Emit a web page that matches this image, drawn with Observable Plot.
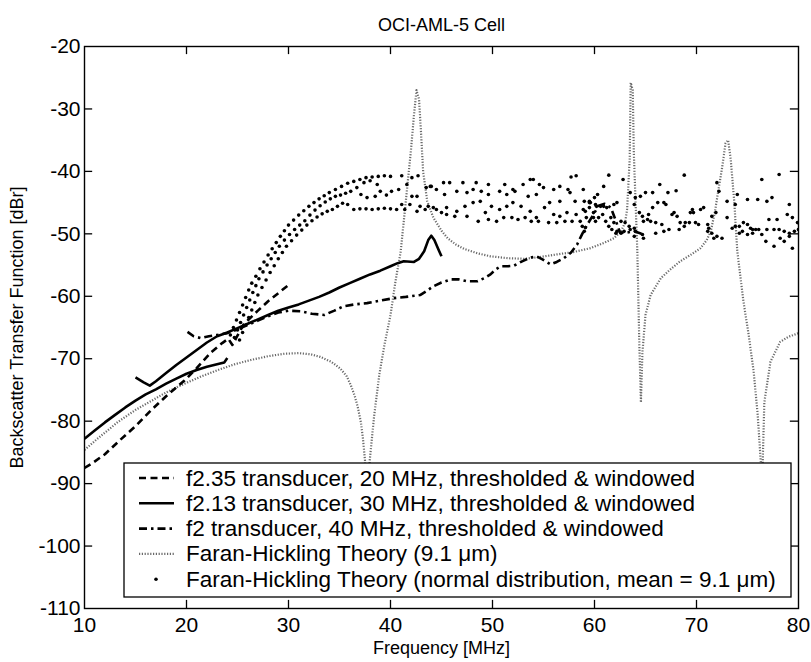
<!DOCTYPE html>
<html><head><meta charset="utf-8">
<script src="https://cdn.jsdelivr.net/npm/d3@7"></script>
<script src="https://cdn.jsdelivr.net/npm/@observablehq/plot@0.6"></script>
<style>body{margin:0;background:#fff} svg{display:block}</style>
</head><body><div id="chart"></div><script>
const titleText = "OCI-AML-5 Cell";
const xLabel = "Frequency [MHz]";
const yLabel = "Backscatter Transfer Function [dBr]";
const xTicks = [10, 20, 30, 40, 50, 60, 70, 80];
const yTicks = [-20, -30, -40, -50, -60, -70, -80, -90, -100, -110];
const legendLabels = [
  "f2.35 transducer, 20 MHz, thresholded & windowed",
  "f2.13 transducer, 30 MHz, thresholded & windowed",
  "f2 transducer, 40 MHz, thresholded & windowed",
  "Faran-Hickling Theory (9.1 \u03bcm)",
  "Faran-Hickling Theory (normal distribution, mean = 9.1 \u03bcm)"
];

// f2.35 transducer, 20 MHz (dashed)
const dashed20 = [[10,-87.5],[10.7,-86.8],[12,-85.3],[13.5,-83],[15,-80.8],[16.5,-78.3],[18,-76],[19.8,-73.5],[21,-71.5],[22.4,-69],[23.5,-67.5],[24.1,-66.8],[24.5,-67.8],[24.9,-66.6],[25.6,-64.5],[27,-62.3],[28,-60.8],[29,-59.5],[30,-58.2]];
// f2.13 transducer, 30 MHz (solid, two pieces)
const solid30a = [[10,-82.8],[11,-81.5],[12,-80.2],[13,-79],[14,-77.8],[15,-76.7],[16,-75.7],[17,-74.9],[18,-74],[19,-73.2],[20,-72.4],[21,-71.8],[22,-71.3],[23,-70.9],[23.7,-70.6],[24,-69.9]];
const solid30b = [[15,-73],[15.8,-73.8],[16.4,-74.3],[17,-73.6],[18,-72.3],[19,-71],[20,-69.8],[21,-68.6],[22,-67.4],[23,-66.4],[24,-65.8],[25,-65.1],[26,-64.4],[27,-63.7],[28,-63],[29,-62.3],[30,-61.8],[31,-61.3],[32,-60.7],[33,-60.1],[34,-59.4],[35,-58.6],[36,-57.9],[37,-57.2],[38,-56.5],[39,-55.9],[40,-55.2],[40.7,-54.7],[41.3,-54.4],[42.3,-54.5],[42.8,-54],[43.3,-52.8],[43.7,-51],[44,-50.3],[44.3,-51],[44.7,-52.5],[45,-53.6]];
// f2 transducer, 40 MHz (dash-dot)
const dashDot40 = [[20.1,-65.7],[20.7,-66.4],[21.4,-66.7],[22.2,-66.4],[23,-66.2],[24,-65.9],[25,-65.3],[26,-64.6],[27,-63.9],[28,-63.2],[29,-62.6],[30,-62.3],[31.2,-62.4],[32.3,-62.8],[33.5,-63],[34.5,-62.3],[35.4,-61.6],[36.5,-61.3],[37.7,-61.1],[39,-60.7],[40.3,-60.3],[41.5,-60.1],[42.9,-59.8],[43.5,-59.2],[44.2,-58.4],[45,-57.8],[45.9,-57.3],[46.7,-57.3],[47.5,-57.6],[48.5,-57.6],[49.2,-57.1],[49.8,-56.5],[50.3,-55.7],[50.8,-55.2],[51.5,-55.2],[52.1,-55.1],[52.9,-54.4],[53.7,-53.8],[54.3,-53.6],[54.9,-54.1],[55.7,-54.9],[56.3,-54.5],[57,-53.9],[57.7,-53],[58.3,-51.7],[58.8,-50],[59.3,-48.5],[59.9,-46.9],[60.4,-45.5],[61,-45.2],[61.6,-45.8],[62,-47.5],[62.5,-49.8],[63.2,-49.8],[63.9,-49.6],[64.8,-50.1]];
// Faran-Hickling theory, 9.1 um (dotted grey)
const theory91 = [[10,-84.6],[11.5,-82.5],[13.3,-80.1],[15,-78.2],[16.5,-76.8],[18,-75.4],[19.8,-74],[21.5,-72.8],[23.1,-71.8],[24.7,-70.9],[26.3,-70.2],[28,-69.6],[29.6,-69.2],[31,-69.1],[32.2,-69.3],[33.1,-69.7],[34.2,-70.5],[35.1,-71.6],[35.7,-72.8],[36.1,-74.2],[36.5,-76],[36.8,-77.8],[37.1,-80.2],[37.3,-82.8],[37.5,-86.3],[37.65,-100],[37.8,-100],[37.95,-86.5],[38.4,-79.1],[38.9,-72.6],[39.4,-67.8],[40,-63],[40.5,-57.5],[41,-52.8],[41.5,-44.8],[42,-36.7],[42.3,-31],[42.55,-27],[42.8,-28.5],[43,-34],[43.2,-40],[43.6,-44.8],[44.2,-47.4],[45,-49.5],[45.6,-50.7],[46.4,-51.7],[47.2,-52.4],[48.5,-53.1],[49.8,-53.6],[51.5,-53.9],[53.1,-54],[54.7,-53.7],[56.3,-53.3],[58,-52.9],[59.6,-52.3],[61,-51.4],[61.9,-50.7],[62.6,-49.6],[63,-48.2],[63.2,-46],[63.45,-38],[63.55,-25.8],[63.75,-27],[63.85,-36.7],[64.05,-46],[64.2,-52.8],[64.4,-68],[64.55,-77],[64.7,-69],[65,-63],[65.5,-59.8],[66.5,-57.1],[67.5,-55.6],[68.4,-54.4],[69.4,-53.4],[70.4,-52.3],[71,-51],[71.4,-49.6],[71.8,-46.5],[72.1,-43.5],[72.5,-39.5],[72.85,-35.5],[73.1,-35],[73.35,-38],[73.7,-44.8],[74,-52.8],[74.6,-60.8],[75.1,-66],[75.6,-72],[76,-79],[76.3,-86.5],[76.4,-100],[76.5,-86],[76.65,-77],[77.25,-70.5],[78.2,-67.3],[79,-66.5],[80,-65.9]];
// Faran-Hickling theory, normal distribution (dots)
const normalRise = [[24.3,-66.2],[24.6,-65],[24.9,-63.8],[25.2,-62.6],[25.5,-61.4],[25.8,-60.2],[26.1,-59],[26.4,-57.9],[26.8,-56.8],[27.2,-55.6],[27.6,-54.5],[28,-53.4],[28.4,-52.4],[28.8,-51.4],[29.2,-50.4],[29.6,-49.5],[30,-48.6],[30.5,-47.8],[31,-47],[31.5,-46.3],[32,-45.6],[32.5,-45],[33,-44.4],[33.5,-43.9],[34,-43.4],[34.6,-42.9],[35.2,-42.4],[35.8,-41.9],[36.4,-41.6],[37,-41.3],[37.6,-41],[38.2,-40.9],[38.8,-40.8],[39.4,-40.7],[40,-40.8],
  [24.7,-66.6],[25,-65.4],[25.3,-64.2],[25.6,-63],[25.9,-61.8],[26.2,-60.6],[26.5,-59.4],[26.8,-58.3],[27.1,-57.2],[27.5,-56.1],[27.9,-55],[28.3,-54],[28.7,-53],[29.1,-52],[29.6,-51],[30.1,-50.1],[30.6,-49.3],[31.1,-48.6],[31.6,-47.9],[32.1,-47],[32.6,-46.2],[33.1,-45.5],[33.6,-44.9],[34.1,-44.4],[34.6,-44],[35.1,-43.8],[35.6,-43.5],[36.1,-43.2],[36.7,-42.6],[37.4,-41.8],[38,-41.5],[38.7,-42.1],[39,-43.2],[38.5,-44],[37.7,-44.2],[37.1,-43.7],[39.6,-43.8],[40.1,-43.2],
  [25.2,-67],[25.5,-65.8],[25.8,-64.6],[26.1,-63.4],[26.4,-62.2],[26.7,-61],[27,-59.8],[27.4,-58.6],[27.8,-57.4],[28.2,-56.2],[28.6,-55.1],[29,-54],[29.4,-53],[29.8,-52],[30.3,-51.1],[30.8,-50.2],[31.3,-49.4],[31.8,-48.6],[32.3,-47.9],[32.8,-47.3],[33.3,-46.8],[33.8,-46.4],[34.3,-46.1],[34.8,-45.6],[35.3,-45.1],[35.8,-45.3],[36.4,-46.1],[37,-46],[37.6,-46],[38.2,-46.1],[38.8,-46],[39.4,-45.9],[40,-46]];
const normalMid = [[41.1,-40.7],[42.1,-41],[42.7,-40.7],[43.9,-42.4],[45.2,-41.8],[45.8,-41.8],[47.1,-41.8],[48.4,-41.8],[49.6,-42.1],[51.2,-42.1],[52.2,-43.2],[53,-42.1],[53.7,-41.3],[54,-41.3],[54.6,-42.1],[56,-42.9],[56.6,-42.4],[57.4,-42.9],[57.7,-40.9],[58.2,-40.7],[58.9,-42.9],[59.5,-44.8],
  [40.8,-42.9],[41.6,-42.1],[42.1,-44],[42.6,-44],[43.5,-42.6],[44,-42.4],[44.5,-42.9],[45.3,-43.7],[46.5,-43.2],[47.5,-43.4],[48.1,-42.9],[48.9,-43.2],[49.6,-43.7],[50.7,-43.2],[51.4,-43.7],[52,-42.9],[53.5,-44],[54.3,-43.7],[55,-42.6],[55.6,-45],[56.6,-44.8],[57.6,-43.4],[58.1,-44.8],[59.5,-45],[60,-44.2],
  [41.1,-45.3],[41.9,-45.3],[42.9,-45.6],[43.7,-45.6],[44.5,-46.1],[45.5,-45.8],[46.5,-46.4],[47.3,-45.6],[48.1,-45],[48.8,-44.8],[49.3,-46.6],[49.9,-45.6],[50.7,-46.1],[51.4,-45.6],[52,-45],[52.8,-45.6],[53.7,-46.4],[54.3,-47.4],[55.1,-45.8],[56,-46.9],[56.6,-47.2],[57.3,-46.6],[58.2,-46.9],[58.9,-46.1],[59.5,-45.8],[60.2,-45.6],
  [40.6,-46.1],[41.4,-46.1],[42.6,-46.4],[43.4,-46.1],[44.2,-45.8],[45,-46.6],[45.5,-46.9],[46.3,-47.2],[47.5,-47.2],[48.6,-48],[49.6,-47.7],[50.4,-48],[51.1,-47.4],[51.9,-47.4],[52.5,-47.7],[53.2,-47.4],[53.8,-48],[54.5,-48],[55.5,-48.2],[56.3,-48.2],[57.1,-48],[57.8,-48],[58.6,-48],[59.2,-47.4],[59.9,-47.4]];
const normalHigh = [[61.4,-40.6],[62.8,-41.3],[60.9,-42.4],[60.3,-43.7],[59,-44.8],[59.6,-45],[60.1,-45.3],[60.6,-45.6],[60.9,-45.6],[61.2,-45.8],[61.9,-45.3],[62.2,-45],[59.1,-46.4],[59.9,-46.6],[60.4,-47.4],[60.1,-48],[58.8,-48.8],[59,-49.6],[59.1,-49],[60.8,-46.9],[61.1,-48],[61.6,-47.4],[61.9,-48.2],[61.4,-48.8],[61.7,-49.3],[62.2,-49.6],[62.6,-49.9],[62.9,-49.6],[62.1,-49.9],[62.6,-48],[63,-48.2],[63.4,-48.8],[63.5,-49.3],[63.9,-49.1],[64,-49.6],[63.5,-43.4],[63.9,-45.3],[64,-44.2],[64.5,-44],[65,-43.4],[65.7,-43.4],[64.4,-46.6],[64.7,-47.2],[65.3,-46.9],[64.8,-48],[65.2,-47.7],[65.5,-48],[66,-48.2],[63.9,-50.4],[64.7,-50.1],[64.8,-50.7],[65.7,-45.8],[66.2,-45],[66.4,-42.1],[66.8,-45],[67,-45.3],[66.6,-48.5],[67.3,-49.3],[66,-49.9],[66.8,-49.6],[67.2,-43.4],[68,-43.1],[67.6,-46.9],[67.8,-46.6],[68.1,-47.2],[68.4,-48.2],[68.9,-48.2],[69.3,-48.2],[69.9,-48.2],[70.2,-48.5],[68.3,-49.3],[68.8,-48.8],[68.8,-40.6],[69.6,-46.1],[69.7,-46.6],[69.4,-46.6],[70.4,-46.1],[70.7,-45.8],[71.1,-48.5],[71.2,-49.1],[71.5,-47.2],[71.9,-46.6],[71.1,-49.6],[71.5,-49.9],[71.7,-50.7],[72,-50.4],[72.5,-50.7],[72.2,-43.2],[72,-41.8],[73,-44.8],[73.8,-45.3],[73,-47.4],[73.5,-49.1],[73.8,-48.8],[74.2,-48.8],[74.6,-48.2],[75,-48.5],[75.3,-49.1],[75.5,-49.3],[75.8,-49.3],[74.2,-49.9],[74.5,-49.6],[75,-50.1],[75.5,-49.9],[76.1,-49.3],[74,-43.7],[75,-44.5],[76,-44.5],[76.4,-41.3],[76.9,-44.8],[77.4,-44.2],[77.1,-47.7],[77.9,-47.7],[76.4,-50.1],[76.8,-51.2],[77.6,-52],[78.2,-50.7],[78.6,-51.2],[79.1,-50.4],[76.9,-49.3],[77.6,-49.3],[78.1,-49.3],[78.6,-49.6],[79.1,-49.9],[79.6,-49.6],[80,-49.3],[78.1,-40.5],[78.9,-46.9],[79.1,-45.3],[79.4,-47.4],[79.4,-52.3],[79.9,-48.2]];

const FONT = "'Liberation Sans', Arial, Helvetica, sans-serif";
const toRows = (arr, key) => arr.map(([f, v]) => ({f, v, key}));
const solidRows = [...toRows(solid30a, "a"), ...toRows(solid30b, "b")];
const dotRows = [...toRows(normalRise, "r"), ...toRows(normalMid, "m"), ...toRows(normalHigh, "h")];
const innerX = xTicks.slice(1, -1);
const innerY = yTicks.slice(1, -1);
const lineOpts = {x: "f", y: "v", clip: true, strokeLinecap: "butt", strokeLinejoin: "round"};

const chart = Plot.plot({
  width: 811, height: 662,
  marginLeft: 84, marginRight: 13, marginTop: 46, marginBottom: 54,
  style: {fontFamily: FONT, fontSize: "20px", color: "black", background: "white"},
  x: {domain: [10, 80]},
  y: {domain: [-110, -20]},
  marks: [
    Plot.line(toRows(theory91, "t"), {...lineOpts, stroke: "#6a6a6a", strokeWidth: 2.2, strokeDasharray: "1.2,1.6"}),
    Plot.dot(dotRows, {x: "f", y: "v", r: 1.8, fill: "black", stroke: "none", clip: true}),
    Plot.line(toRows(dashed20, "d"), {...lineOpts, stroke: "black", strokeWidth: 2.6, strokeDasharray: "7,4.5"}),
    Plot.line(solidRows, {...lineOpts, z: "key", stroke: "black", strokeWidth: 2.6}),
    Plot.line(toRows(dashDot40, "dd"), {...lineOpts, stroke: "black", strokeWidth: 2.6, strokeDasharray: "8,4,2.5,4"}),
    Plot.ruleX(innerX, {x: d => d, y1: -110, y2: -108.7, stroke: "black", strokeWidth: 1.3}),
    Plot.ruleX(innerX, {x: d => d, y1: -20, y2: -21.3, stroke: "black", strokeWidth: 1.3}),
    Plot.ruleY(innerY, {y: d => d, x1: 10, x2: 10.8, stroke: "black", strokeWidth: 1.3}),
    Plot.ruleY(innerY, {y: d => d, x1: 80, x2: 79.2, stroke: "black", strokeWidth: 1.3}),
    Plot.frame({stroke: "black", strokeWidth: 1.4}),
    Plot.axisX({ticks: xTicks, tickSize: 0, tickPadding: 9, fontSize: 21, tickFormat: d => String(d), label: null}),
    Plot.axisY({ticks: yTicks, tickSize: 0, tickPadding: 4, fontSize: 21, tickFormat: d => String(d), label: null}),
    Plot.text([titleText], {frameAnchor: "top", dy: -28, fontSize: 18, textAnchor: "middle"}),
    Plot.text([xLabel], {frameAnchor: "bottom", dy: 45, fontSize: 18, textAnchor: "middle"}),
    Plot.text([yLabel], {frameAnchor: "left", dx: -67, rotate: -90, fontSize: 18, textAnchor: "middle"})
  ]
});
document.getElementById("chart").appendChild(chart);

// legend
const svg = d3.select(chart);
const lg = svg.append("g").attr("font-family", FONT).attr("font-size", 22.5).attr("text-anchor", "start");
lg.append("rect").attr("x", 124).attr("y", 463).attr("width", 667).attr("height", 134)
  .attr("fill", "white").attr("stroke", "black").attr("stroke-width", 1.3);
const styles = [
  {dash: "7,4.5", stroke: "black", w: 2.6},
  {dash: null, stroke: "black", w: 2.6},
  {dash: "8,4,2.5,4", stroke: "black", w: 2.6},
  {dash: "1.2,1.6", stroke: "#6a6a6a", w: 2.2},
  {dot: true}
];
legendLabels.forEach((label, i) => {
  const y = 478 + i * 25.3;
  const s = styles[i];
  if (s.dot) {
    lg.append("circle").attr("cx", 156).attr("cy", y).attr("r", 1.8).attr("fill", "black");
  } else {
    const ln = lg.append("line").attr("x1", 139).attr("x2", 174).attr("y1", y).attr("y2", y)
      .attr("stroke", s.stroke).attr("stroke-width", s.w).attr("stroke-linecap", "butt");
    if (s.dash) ln.attr("stroke-dasharray", s.dash);
  }
  lg.append("text").attr("x", 186).attr("y", y).attr("dominant-baseline", "central")
    .attr("text-anchor", "start").attr("fill", "black").text(label);
});
</script></body></html>
